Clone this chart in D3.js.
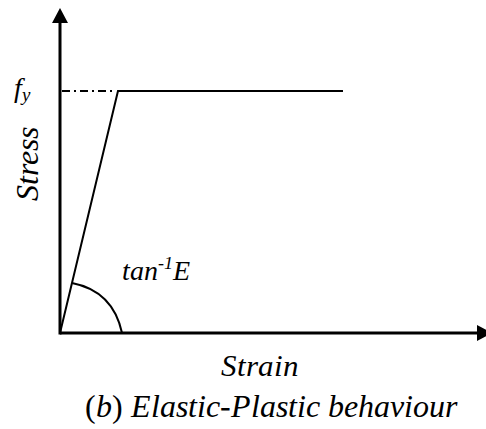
<!DOCTYPE html>
<html><head><meta charset="utf-8">
<script src="https://cdn.jsdelivr.net/npm/d3@7"></script>
<style>
@font-face{font-family:"ChartSerif";font-style:italic;font-weight:400;src:local("Liberation Serif Italic"),local("LiberationSerif-Italic"),local("Tinos Italic"),local("DejaVu Serif Italic");}
@font-face{font-family:"ChartSerif";font-style:normal;font-weight:400;src:local("Liberation Serif"),local("LiberationSerif"),local("Tinos"),local("DejaVu Serif");}
</style>
</head><body style="margin:0">
<svg id="c" width="486" height="429"></svg>
<script>
// Data (normalised strain / stress; fy = 1)
const strain = [0, 1, 4.88];
const stress = [0, 1, 1];
const yieldStrain = [0, 1];      // dash-dot reference to fy
const arcStrain = [0.207, 0.914, 1.07];
const arcStress = [0.207, 0.174, 0];
const xMax = 7.45, yMax = 1.343;
const labels = {x: "Strain", y: "Stress", fy: "f", fySub: "y", angle: "tan", angleSup: "-1", angleE: "E"};

const svg = d3.select("#c");
const x = d3.scaleLinear().domain([0, xMax]).range([60, 492]);
const y = d3.scaleLinear().domain([0, yMax]).range([333, 8]);

// axes
svg.append("line").attr("x1", x(0)).attr("x2", x(xMax) - 12).attr("y1", y(0)).attr("y2", y(0))
  .attr("stroke", "#000").attr("stroke-width", 3);
svg.append("line").attr("x1", x(0)).attr("x2", x(0)).attr("y1", y(0) + 1.5).attr("y2", y(yMax) + 12)
  .attr("stroke", "#000").attr("stroke-width", 3);
// arrowheads
const tx = x(xMax), ty = y(0);
svg.append("path").attr("d", `M${tx},${ty} L${tx - 15},${ty - 8} L${tx - 15},${ty + 8} Z`).attr("fill", "#000");
const ax = x(0), ay = y(yMax);
svg.append("path").attr("d", `M${ax},${ay} L${ax - 8},${ay + 15} L${ax + 8},${ay + 15} Z`).attr("fill", "#000");

// dash-dot fy line
svg.append("line").attr("x1", x(yieldStrain[0]) + 2).attr("x2", x(yieldStrain[1]) - 3)
  .attr("y1", y(1)).attr("y2", y(1)).attr("stroke", "#000").attr("stroke-width", 2)
  .attr("stroke-dasharray", "8,4,2,4");

// curve
const line = d3.line().x((d, i) => x(strain[i])).y((d, i) => y(stress[i]));
svg.append("path").datum(strain).attr("d", line).attr("fill", "none")
  .attr("stroke", "#000").attr("stroke-width", 2);

// angle arc
const p = arcStrain.map((s, i) => [x(s), y(arcStress[i])]);
svg.append("path").attr("d", `M${p[0][0]},${p[0][1]} Q${p[1][0]},${p[1][1]} ${p[2][0]},${p[2][1]}`)
  .attr("fill", "none").attr("stroke", "#000").attr("stroke-width", 2);

// labels
const famStr = '"ChartSerif", "Liberation Serif", "Tinos", "DejaVu Serif", serif';
function txt(px) {
  return svg.append("text").attr("font-family", famStr)
    .style("font-family", famStr).style("font-size", px + "px")
    .style("font-style", "italic");
}

const fy = txt(28).attr("x", 14).attr("y", 97);
fy.append("tspan").text(labels.fy);
fy.append("tspan").style("font-size", "19px").attr("dy", 4).text(labels.fySub);

const t = txt(28).attr("x", 122).attr("y", 280);
t.append("tspan").text(labels.angle);
t.append("tspan").style("font-size", "18px").attr("dy", -11).text(labels.angleSup);
t.append("tspan").attr("dy", 11).text(labels.angleE);

txt(32).attr("transform", "translate(38,164) rotate(-90)").attr("text-anchor", "middle").text(labels.y);

txt(31).attr("x", 260).attr("y", 376).attr("text-anchor", "middle").text(labels.x);

const cap = txt(31.5).attr("x", 271).attr("y", 417).attr("text-anchor", "middle");
cap.append("tspan").style("font-style", "normal").text("(");
cap.append("tspan").text("b");
cap.append("tspan").style("font-style", "normal").text(") ");
cap.append("tspan").text("Elastic-Plastic behaviour");
</script>
</body></html>
